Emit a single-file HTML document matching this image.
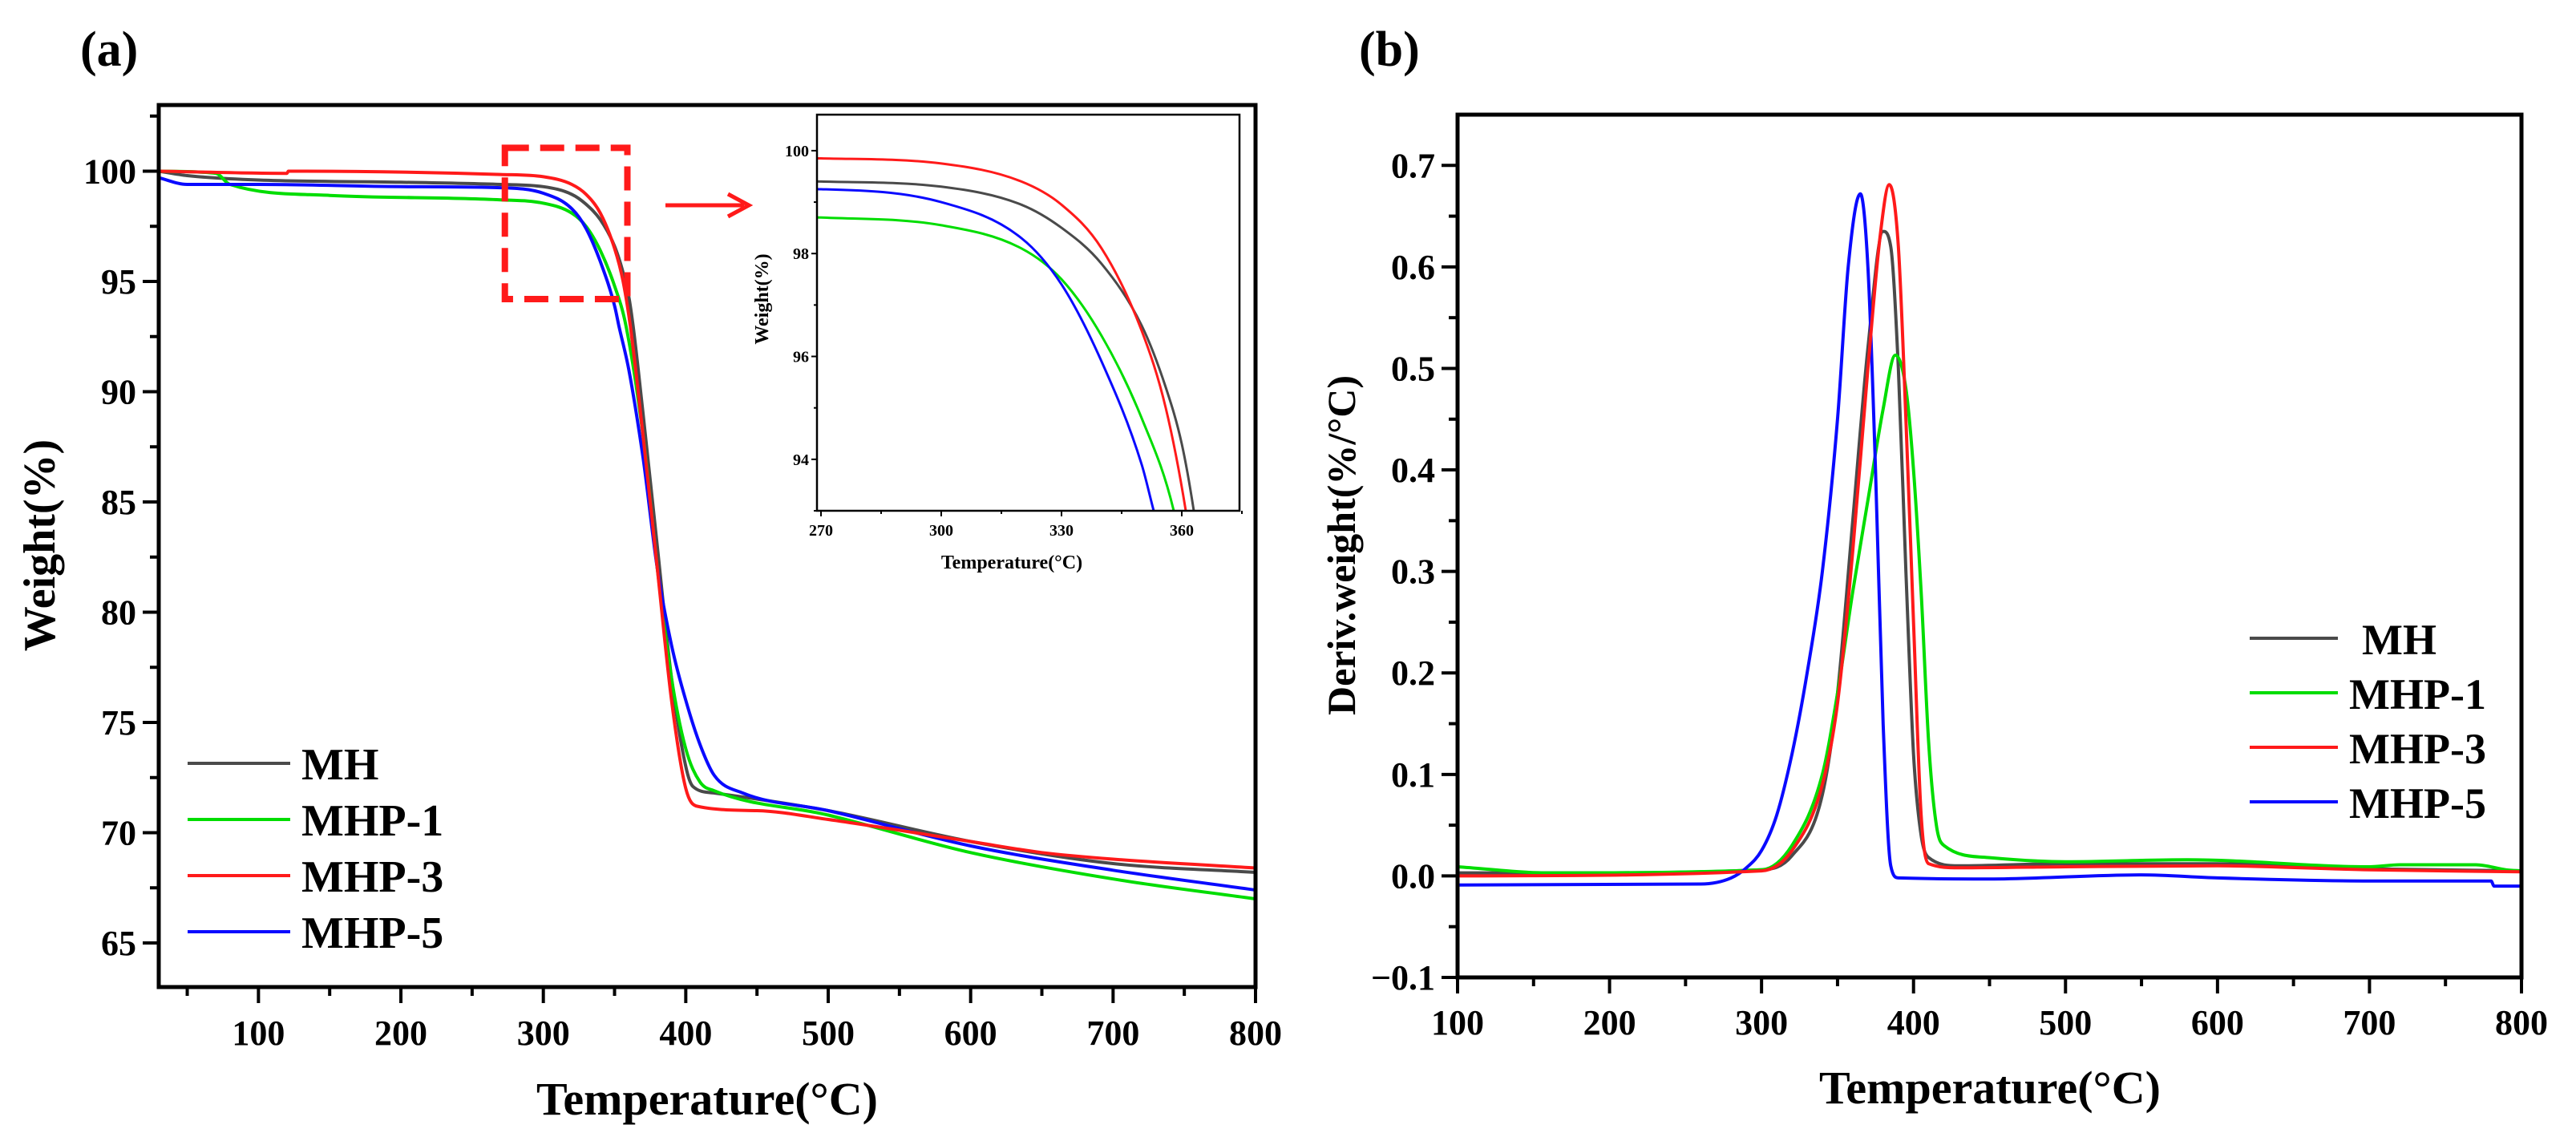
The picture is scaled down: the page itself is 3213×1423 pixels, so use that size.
<!DOCTYPE html>
<html><head><meta charset="utf-8"><style>
html,body{margin:0;padding:0;width:3213px;height:1423px;overflow:hidden;background:#fff}
svg{display:block}
text{font-family:"Liberation Serif",serif;font-weight:bold;fill:#000}
</style></head><body>
<svg id="fig" width="3213" height="1423" viewBox="0 0 3213 1423" xmlns="http://www.w3.org/2000/svg">
<rect width="3213" height="1423" fill="#fff"/>
<text x="100" y="82" font-size="62">(a)</text>
<text x="1695" y="82" font-size="62">(b)</text>
<g id="pa"></g>
<g id="pb"></g>
</svg>
<script>
// ---- data ----
const seriesNames = ["MH","MHP-1","MHP-3","MHP-5"];
const tgaMH_T = [30,50,100,200,270,300,320,330,340,350,356,360,363,370,380,390,400,405,420,500,600,700,800];
const tgaMH_W = [100,99.8,99.6,99.5,99.4,99.3,98.95,98.5,97.8,96.6,95.4,94.3,93.0,89,83,77,73,72.1,71.8,71,69.6,68.6,68.2];
const tgaP1_T = [30,70,80,150,270,300,320,330,340,350,358,370,380,390,400,410,420,500,600,700,800];
const tgaP1_W = [100,99.9,99.4,98.9,98.7,98.55,98.1,97.5,96.4,94.8,93.0,88,82,77,73.8,72.3,71.9,70.8,69.1,67.9,67.0];
const tgaP3_T = [30,120,121,270,300,320,330,340,350,356,361,370,380,390,400,408,450,500,600,650,700,800];
const tgaP3_W = [100,99.9,100,99.85,99.75,99.4,98.95,98.1,96.5,95.0,93.0,88,82,76,72,71.2,71.0,70.6,69.6,69.1,68.8,68.4];
const tgaP5_T = [30,50,100,200,270,300,320,330,340,350,353,360,370,380,390,400,410,420,440,500,600,700,800];
const tgaP5_W = [99.7,99.4,99.4,99.3,99.25,99.0,98.3,97.4,95.9,93.9,93.0,91,87,82,78.5,76,74,72.6,71.8,71,69.4,68.3,67.4];
const dtgMH_T = [100,170,300,320,340,350,360,370,380,385,390,395,400,405,410,430,500,600,700,800];
const dtgMH_V = [0.003,0.003,0.006,0.02,0.08,0.18,0.35,0.52,0.635,0.62,0.5,0.3,0.12,0.04,0.018,0.01,0.012,0.012,0.007,0.005];
const dtgP1_T = [100,160,300,320,340,350,360,370,380,388,395,400,405,410,415,420,450,500,580,700,720,770,790,800];
const dtgP1_V = [0.009,0.003,0.006,0.03,0.1,0.18,0.28,0.37,0.46,0.513,0.48,0.4,0.28,0.13,0.05,0.03,0.018,0.014,0.016,0.009,0.011,0.011,0.006,0.005];
const dtgP3_T = [100,300,320,340,350,360,370,378,384,390,395,400,405,410,430,500,600,700,800];
const dtgP3_V = [0.0,0.005,0.025,0.09,0.17,0.32,0.5,0.63,0.681,0.62,0.45,0.25,0.06,0.012,0.008,0.009,0.01,0.006,0.004];
const dtgP5_T = [100,260,280,290,300,310,320,330,340,350,357,365,370,375,380,385,390,450,550,600,700,780,782,800];
const dtgP5_V = [-0.009,-0.008,-0.002,0.008,0.025,0.06,0.12,0.2,0.3,0.45,0.6,0.672,0.6,0.4,0.15,0.01,-0.002,-0.003,0.001,-0.002,-0.005,-0.005,-0.01,-0.01];
const aXTicks = [100,200,300,400,500,600,700,800];
const aYTicks = [65,70,75,80,85,90,95,100];
const bXTicks = [100,200,300,400,500,600,700,800];
const bYTicks = [-0.1,0.0,0.1,0.2,0.3,0.4,0.5,0.6,0.7];
const bYLabels = ["\u22120.1","0.0","0.1","0.2","0.3","0.4","0.5","0.6","0.7"];
const insetXTicks = [270,300,330,360];
const insetYTicks = [94,96,98,100];
const colors = ["#4a4a4a","#00dd00","#ff1a1a","#0a0aff"];
const degTitle = "Temperature(\u00B0C)";

const NS="http://www.w3.org/2000/svg";
function mk(p,tag,attrs){const e=document.createElementNS(NS,tag);for(const k in attrs)e.setAttribute(k,attrs[k]);p.appendChild(e);return e;}
function lin(d0,d1,r0,r1){return v=>r0+(v-d0)/(d1-d0)*(r1-r0);}
function pathD(T,V,sx,sy){
  const x=T.map(sx),y=V.map(sy),n=x.length;
  const d=[],m=new Array(n);
  for(let i=0;i<n-1;i++){const dx=x[i+1]-x[i];d.push(dx===0?0:(y[i+1]-y[i])/dx);}
  m[0]=d[0];m[n-1]=d[n-2];
  for(let i=1;i<n-1;i++){m[i]=(d[i-1]*d[i]<=0)?0:(d[i-1]+d[i])/2;}
  for(let i=0;i<n-1;i++){
    if(d[i]===0){m[i]=0;m[i+1]=0;continue;}
    const a=m[i]/d[i],b=m[i+1]/d[i],s=a*a+b*b;
    if(s>9){const t=3/Math.sqrt(s);m[i]=t*a*d[i];m[i+1]=t*b*d[i];}
  }
  let s="M"+x[0].toFixed(1)+","+y[0].toFixed(1);
  for(let i=0;i<n-1;i++){
    const h=(x[i+1]-x[i])/3;
    s+=" C"+(x[i]+h).toFixed(1)+","+(y[i]+m[i]*h).toFixed(1)+" "+(x[i+1]-h).toFixed(1)+","+(y[i+1]-m[i+1]*h).toFixed(1)+" "+x[i+1].toFixed(1)+","+y[i+1].toFixed(1);
  }
  return s;
}

// ---- panel a ----
const pa=document.getElementById('pa');
const aL=198,aR=1566,aT=131,aB=1231;
const ax=lin(30,800,aL,aR), ay=lin(63,103,aB,aT);
const cpa=mk(pa,'clipPath',{id:'ca'});
mk(cpa,'rect',{x:aL,y:aT,width:aR-aL,height:aB-aT});
const tgaT=[tgaMH_T,tgaP1_T,tgaP3_T,tgaP5_T], tgaW=[tgaMH_W,tgaP1_W,tgaP3_W,tgaP5_W];
const order=[0,1,3,2];
order.forEach(i=>{
  const l=mk(pa,'path',{d:pathD(tgaT[i],tgaW[i],ax,ay),fill:'none',stroke:colors[i],'stroke-width':4,'stroke-linejoin':'round','clip-path':'url(#ca)'});
  
  
});
mk(pa,'rect',{x:aL,y:aT,width:aR-aL,height:aB-aT,fill:'none',stroke:'#000','stroke-width':5,});
for(let v=50;v<=800;v+=50){const x=ax(v);const maj=v%100===0;mk(pa,'line',{x1:x,y1:aB,x2:x,y2:aB+(maj?20:11),stroke:'#000','stroke-width':4});}
aXTicks.forEach(v=>{const t=mk(pa,'text',{x:ax(v),y:1303,'font-size':44,'text-anchor':'middle'});t.textContent=v;});
for(let v=65;v<=102.5;v+=2.5){const y=ay(v);const maj=v%5===0;mk(pa,'line',{x1:aL,y1:y,x2:aL-(maj?20:11),y2:y,stroke:'#000','stroke-width':4});}
aYTicks.forEach(v=>{const t=mk(pa,'text',{x:aL-28,y:ay(v)+15,'font-size':44,'text-anchor':'end'});t.textContent=v;});
let t=mk(pa,'text',{x:882,y:1390,'font-size':58,'text-anchor':'middle',});t.textContent=degTitle;
t=mk(pa,'text',{x:0,y:0,'font-size':56,'text-anchor':'middle',transform:'translate(68,680) rotate(-90)',});t.textContent="Weight(%)";
const legAY=[952,1022,1092,1162];
seriesNames.forEach((n,i)=>{
  const g=mk(pa,'g',{});
  
  
  mk(g,'line',{x1:234,y1:legAY[i],x2:362,y2:legAY[i],stroke:colors[i],'stroke-width':4});
  const tt=mk(g,'text',{x:376,y:legAY[i]+20,'font-size':56});tt.textContent=n;
});
const bx0=ax(273),bx1=ax(359),by0=ay(101.06),by1=ay(94.2);
mk(pa,'rect',{x:bx0,y:by0,width:bx1-bx0,height:by1-by0,fill:'none',stroke:'#ff1a1a','stroke-width':8,'stroke-dasharray':'30 14',});
mk(pa,'line',{x1:830,y1:256,x2:928,y2:256,stroke:'#ff1a1a','stroke-width':5,});
mk(pa,'polyline',{points:'908,242 934,256 908,270',fill:'none',stroke:'#ff1a1a','stroke-width':5});
// inset
const iL=1019,iR=1546,iT=143,iB=637;
const ix=lin(269,374.4,iL,iR), iy=lin(93,100.7,iB,iT);
const ig=mk(pa,'g',{});
mk(ig,'rect',{x:iL,y:iT,width:iR-iL,height:iB-iT,fill:'#fff'});
const cpi=mk(ig,'clipPath',{id:'ci'});
mk(cpi,'rect',{x:iL,y:iT,width:iR-iL,height:iB-iT});
order.forEach(i=>{
  const l=mk(ig,'path',{d:pathD(tgaT[i],tgaW[i],ix,iy),fill:'none',stroke:colors[i],'stroke-width':3,'stroke-linejoin':'round','clip-path':'url(#ci)'});
  
  
});
mk(ig,'rect',{x:iL,y:iT,width:iR-iL,height:iB-iT,fill:'none',stroke:'#000','stroke-width':2.5});
for(let v=270;v<=375;v+=15){const x=ix(v);mk(ig,'line',{x1:x,y1:iB,x2:x,y2:iB+(v%30===0?7:4),stroke:'#000','stroke-width':2});}
insetXTicks.forEach(v=>{const tt=mk(ig,'text',{x:ix(v),y:iB+31,'font-size':20,'text-anchor':'middle'});tt.textContent=v;});
for(let v=93;v<=100;v+=1){const y=iy(v);mk(ig,'line',{x1:iL,y1:y,x2:iL-(v%2===0?7:4),y2:y,stroke:'#000','stroke-width':2});}
insetYTicks.forEach(v=>{const tt=mk(ig,'text',{x:iL-10,y:iy(v)+7,'font-size':20,'text-anchor':'end'});tt.textContent=v;});
t=mk(ig,'text',{x:1262,y:709,'font-size':24,'text-anchor':'middle'});t.textContent=degTitle;
t=mk(ig,'text',{x:0,y:0,'font-size':24,'text-anchor':'middle',transform:'translate(958,373) rotate(-90)'});t.textContent="Weight(%)";

// ---- panel b ----
const pb=document.getElementById('pb');
const bL=1818,bR=3145,bT=143,bB=1219;
const bxs=lin(100,800,bL,bR), bys=lin(-0.1,0.75,bB,bT);
const dT=[dtgMH_T,dtgP1_T,dtgP3_T,dtgP5_T], dV=[dtgMH_V,dtgP1_V,dtgP3_V,dtgP5_V];
[0,1,3,2].forEach(i=>{
  const l=mk(pb,'path',{d:pathD(dT[i],dV[i],bxs,bys),fill:'none',stroke:colors[i],'stroke-width':4,'stroke-linejoin':'round'});
  
  
});
mk(pb,'rect',{x:bL,y:bT,width:bR-bL,height:bB-bT,fill:'none',stroke:'#000','stroke-width':5,});
for(let v=100;v<=800;v+=50){const x=bxs(v);const maj=v%100===0;mk(pb,'line',{x1:x,y1:bB,x2:x,y2:bB+(maj?20:11),stroke:'#000','stroke-width':4});}
bXTicks.forEach(v=>{const tt=mk(pb,'text',{x:bxs(v),y:1290,'font-size':44,'text-anchor':'middle'});tt.textContent=v;});
for(let k=-2;k<=14;k++){const v=k*0.05;const y=bys(v);const maj=k%2===0;mk(pb,'line',{x1:bL,y1:y,x2:bL-(maj?20:11),y2:y,stroke:'#000','stroke-width':4});}
bYTicks.forEach((v,i)=>{const tt=mk(pb,'text',{x:bL-28,y:bys(v)+15,'font-size':44,'text-anchor':'end'});tt.textContent=bYLabels[i];});
t=mk(pb,'text',{x:2482,y:1376,'font-size':58,'text-anchor':'middle',});t.textContent=degTitle;
t=mk(pb,'text',{x:0,y:0,'font-size':50,'text-anchor':'middle',transform:'translate(1690,680) rotate(-90)',});t.textContent="Deriv.weight(%/\u00B0C)";
const legBY=[796,864,932,1000];
seriesNames.forEach((n,i)=>{
  const g=mk(pb,'g',{});
  
  
  mk(g,'line',{x1:2806,y1:legBY[i],x2:2916,y2:legBY[i],stroke:colors[i],'stroke-width':4});
  const tt=mk(g,'text',{x:i===0?2946:2930,y:legBY[i]+20,'font-size':54});tt.textContent=n;
});
</script>
</body></html>
